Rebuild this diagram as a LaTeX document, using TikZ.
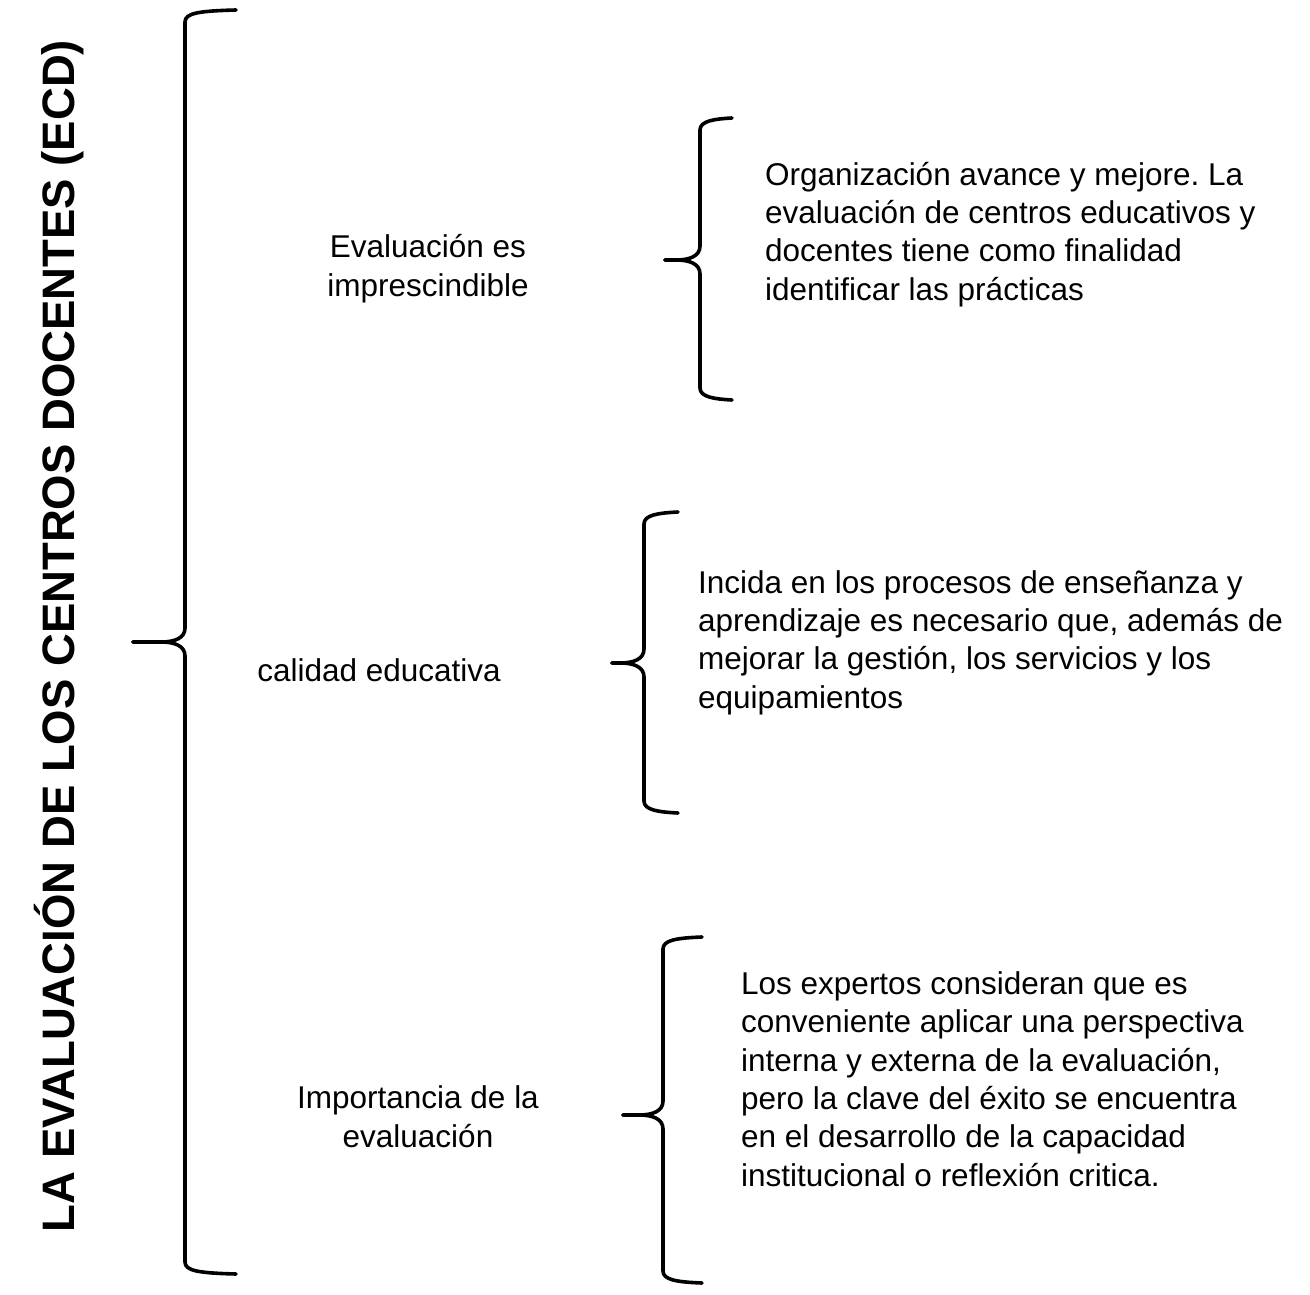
\documentclass[tikz,border=0pt]{standalone}
\usepackage{fontspec}
\setmainfont{Liberation Sans}
\newcommand{\curlyb}[6]{%
  \draw[bracestyle] (#2,#4) .. controls ({#1+14},{#4+1}) and (#1,{#4+3}) .. (#1,{#4+12})
    -- (#1,{#5-14}) .. controls (#1,{#5-4}) and ({#1-10},#5) .. ({#1-24},#5) -- (#3,#5);
  \draw[bracestyle] (#3,#5) -- ({#1-24},#5) .. controls ({#1-10},#5) and (#1,{#5+4}) .. (#1,{#5+14})
    -- (#1,{#6-12}) .. controls (#1,{#6-3}) and ({#1+14},{#6-1}) .. (#2,#6);
}
\tikzset{
  bracestyle/.style={line width=3.6pt, line cap=round, line join=round},
  body/.style={font=\fontsize{31.5}{38.3}\selectfont, inner sep=0pt},
  leftcol/.style={body, align=center, anchor=base},
  rightcol/.style={body, align=left, anchor=base west},
  titletext/.style={font=\fontsize{45.5}{50}\selectfont\bfseries, inner sep=0pt, rotate=90, anchor=base}
}
\begin{document}
\frenchspacing
\begin{tikzpicture}[x=1pt,y=-1pt]
\useasboundingbox (0,0) rectangle (1310,1295);
\fill[white] (0,0) rectangle (1310,1295);
\node[titletext] (title) at (74,636) {LA EVALUACIÓN DE LOS CENTROS DOCENTES (ECD)};
\curlyb{185}{236}{133}{10}{642}{1274}
\curlyb{700}{732}{665}{118}{260}{400}
\curlyb{644}{678}{612}{512}{663}{813}
\curlyb{663}{702}{623}{937}{1115}{1283}
\node[leftcol] (a1) at (428,296) {Evaluación es\\imprescindible};
\node[leftcol] (a2) at (379,681) {calidad educativa};
\node[leftcol] (a3) at (418,1147) {Importancia de la\\evaluación};
\node[rightcol] (b1) at (765,300) {Organización avance y mejore. La\\evaluación de centros educativos y\\docentes tiene como finalidad\\identificar las prácticas};
\node[rightcol] (b2) at (698,708) {Incida en los procesos de enseñanza y\\aprendizaje es necesario que, además de\\mejorar la gestión, los servicios y los\\equipamientos};
\node[rightcol] (b3) at (741,1186) {Los expertos consideran que es\\conveniente aplicar una perspectiva\\interna y externa de la evaluación,\\pero la clave del éxito se encuentra\\en el desarrollo de la capacidad\\institucional o reflexión critica.};
\end{tikzpicture}
\end{document}
